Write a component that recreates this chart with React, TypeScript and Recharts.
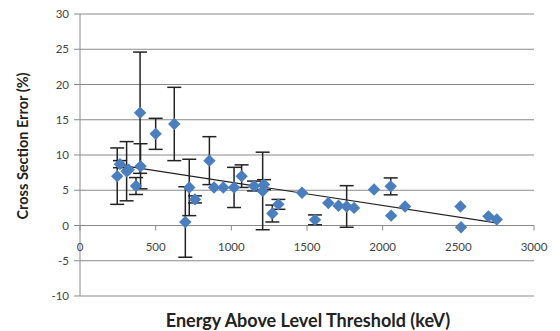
import React from 'react';
import {
  ScatterChart,
  Scatter,
  XAxis,
  YAxis,
  CartesianGrid,
  ErrorBar,
  ReferenceLine,
  Label,
} from 'recharts';

// Energy above level threshold (keV)
const energies = [
  246, 264, 308, 322, 370, 397, 400, 500, 623, 696, 722, 760, 855, 886, 947,
  1018, 1068, 1150, 1207, 1216, 1271, 1311, 1467, 1553, 1641, 1708, 1762,
  1811, 1943, 2053, 2056, 2148, 2514, 2518, 2699, 2754,
];
// Cross section error (%)
const errors = [
  7.0, 8.7, 7.7, 7.9, 5.6, 16.0, 8.4, 13.0, 14.4, 0.5, 5.4, 3.7, 9.2, 5.4, 5.4,
  5.4, 7.0, 5.6, 4.9, 5.8, 1.7, 3.0, 4.65, 0.8, 3.2, 2.8, 2.7, 2.5, 5.1, 5.55,
  1.4, 2.7, 2.7, -0.25, 1.3, 0.85,
];
// Error bar half-widths (%), 0 = no bar
const uncertainties = [
  4.0, 0.5, 4.2, 0, 1.2, 8.6, 3.2, 2.2, 5.2, 5.0, 4.0, 0.5, 3.4, 0, 0, 2.85,
  1.6, 0.7, 5.5, 0.7, 1.2, 0.7, 0, 0.7, 0, 0, 2.95, 0, 0, 1.2, 0, 0, 0, 0, 0,
  0,
];
const xTicks = [0, 500, 1000, 1500, 2000, 2500, 3000];
const yTicks = [-10, -5, 0, 5, 10, 15, 20, 25, 30];
const trendX = [250, 2740];
const trendY = [8.6, 0.4];

const data = energies.map((e, i) => ({
  x: e,
  y: errors[i],
  err: uncertainties[i] > 0 ? uncertainties[i] : undefined,
}));

const W = 560;
const H = 331;
const MARGIN = { top: 14, right: 26, bottom: 5, left: 0 };
const Y_AXIS_W = 80;
const X_AXIS_H = 30;
const PLOT_TOP = MARGIN.top;
const PLOT_BOTTOM = H - MARGIN.bottom - X_AXIS_H;
const Y_MIN = yTicks[0];
const Y_MAX = yTicks[yTicks.length - 1];
const GRID = '#8a8a8a';
const TEXT = '#444444';
const FONT = 'Lato, "Open Sans", sans-serif';

const y0Pixel = () =>
  PLOT_TOP + ((PLOT_BOTTOM - PLOT_TOP) * (Y_MAX - 0)) / (Y_MAX - Y_MIN);

const XTick = (props: any) => {
  const { x, payload } = props;
  const y0 = y0Pixel();
  return (
    <g>
      <line x1={x} x2={x} y1={y0} y2={y0 + 5} stroke={GRID} strokeWidth={1} />
      <text
        x={x}
        y={y0 + 21}
        textAnchor="middle"
        dominantBaseline="central"
        fontSize={11.5}
        fill={TEXT}
        fontFamily={FONT}
      >
        {payload.value}
      </text>
    </g>
  );
};

const Diamond = (props: any) => {
  const { cx, cy } = props;
  const r = 6.2;
  return (
    <polygon
      points={`${cx},${cy - r} ${cx + r},${cy} ${cx},${cy + r} ${cx - r},${cy}`}
      fill="#4a7ebf"
    />
  );
};

export default function App() {
  return (
    <div style={{ position: 'absolute', left: 0, top: 0, background: '#fff' }}>
      <ScatterChart width={W} height={H} margin={MARGIN}>
        <CartesianGrid vertical={false} stroke={GRID} strokeWidth={1} />
        <XAxis
          type="number"
          dataKey="x"
          domain={[0, 3000]}
          ticks={xTicks}
          height={X_AXIS_H}
          axisLine={false}
          tickLine={false}
          tickSize={0}
          tick={<XTick />}
          interval={0}
        >
          <Label
            content={() => (
              <text
                x={308}
                y={327}
                textAnchor="middle"
                fontSize={18}
                fontWeight="bold"
                fill="#222"
                fontFamily={FONT}
              >
                Energy Above Level Threshold (keV)
              </text>
            )}
          />
        </XAxis>
        <YAxis
          type="number"
          dataKey="y"
          domain={[Y_MIN, Y_MAX]}
          ticks={yTicks}
          width={Y_AXIS_W}
          axisLine={{ stroke: GRID }}
          tickLine={{ stroke: GRID }}
          tickSize={6}
          tickMargin={5}
          interval={0}
          tick={{ fontSize: 11.5, fill: TEXT, fontFamily: FONT }}
        >
          <Label
            content={() => (
              <text
                x={28}
                y={146}
                transform="rotate(-90 28 146)"
                textAnchor="middle"
                fontSize={14.5}
                fontWeight="bold"
                fill="#222"
                fontFamily={FONT}
              >
                Cross Section Error (%)
              </text>
            )}
          />
        </YAxis>
        <ReferenceLine y={0} stroke={GRID} strokeWidth={1} />
        <ReferenceLine
          segment={[
            { x: trendX[0], y: trendY[0] },
            { x: trendX[1], y: trendY[1] },
          ]}
          stroke="#222"
          strokeWidth={1.2}
        />
        <Scatter data={data} shape={<Diamond />} isAnimationActive={false}>
          <ErrorBar
            dataKey="err"
            direction="y"
            width={7}
            stroke="#222"
            strokeWidth={1.5}
            isAnimationActive={false}
          />
        </Scatter>
      </ScatterChart>
    </div>
  );
}
